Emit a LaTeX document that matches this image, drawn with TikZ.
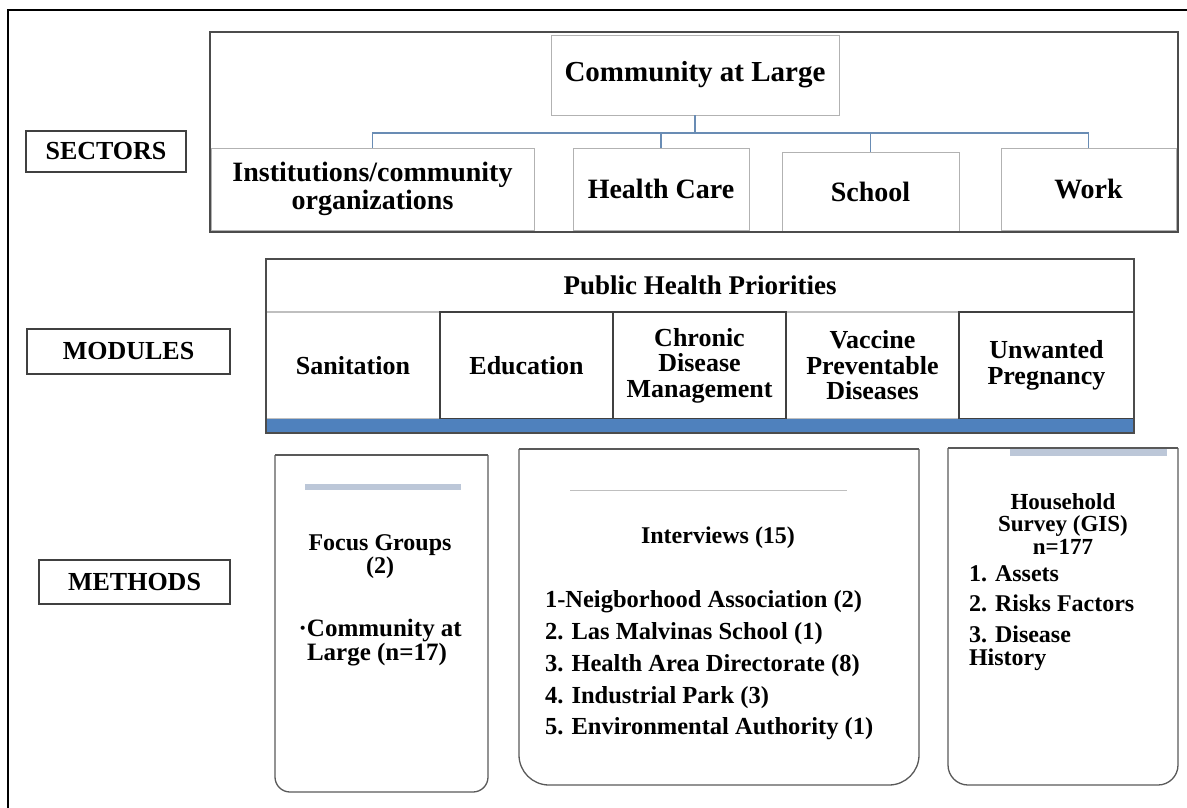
\documentclass[tikz,border=0pt]{standalone}
\usepackage{fontspec}
\setmainfont{Liberation Serif}
\usepackage{tikz}
\usetikzlibrary{positioning}

\definecolor{linkblue}{RGB}{105,140,180}
\definecolor{barblue}{RGB}{79,129,189}
\definecolor{palebar}{RGB}{188,199,216}

\begin{document}
\begin{tikzpicture}[
x                  = 1pt,
y                  = -1pt,
every node/.style  = {inner sep=0pt, outer sep=0pt, font=\bfseries},
labelbox/.style    = {draw=black!75, line width=1.3pt, font=\fontsize{26}{28}\selectfont\bfseries},
panel/.style       = {draw=black!70, line width=1.3pt},
sectorbox/.style   = {draw=black!30, line width=0.8pt, align=center, font=\fontsize{28}{28.5}\selectfont\bfseries},
link/.style        = {draw=linkblue, line width=1.2pt},
modcell/.style     = {draw=black!75, line width=1.1pt, align=center, minimum height=107pt, font=\fontsize{26}{25.5}\selectfont\bfseries},
methodline/.style  = {draw=black!65, line width=1.3pt},
methodtext/.style  = {align=center, font=\fontsize{24}{23}\selectfont\bfseries}
]

\useasboundingbox (0,0) rectangle (1187,808);
\draw[line width=2pt] (1187,10) -- (8,10) -- (8,808);

% sectors
\node[labelbox, minimum width=160pt, minimum height=41pt] (sectors) at (106,151.5) {SECTORS};
\node[sectorbox, minimum width=288pt, minimum height=80pt, font=\fontsize{29}{29}\selectfont\bfseries] (community) at (695,75) {Community at Large};
\node[sectorbox, minimum width=323pt, minimum height=82pt] (inst) at (372.5,189) {Institutions/community\\organizations};
\node[sectorbox, minimum width=176pt, minimum height=82pt] (health) at (661,189) {Health Care};
\node[sectorbox, minimum width=177pt, minimum height=80pt] (school) at (870.5,192) {School};
\node[sectorbox, minimum width=175pt, minimum height=82pt] (work) at (1088.5,189) {Work};
\node[panel, minimum width=968pt, minimum height=200pt] (sectorpanel) at (694,132) {};

\draw[link] (community.south) -- ++(0,18) coordinate (hub);
\draw[link] (hub) -| (inst.north);
\draw[link] (hub) -| (health.north);
\draw[link] (hub) -| (school.north);
\draw[link] (hub) -| (work.north);

% modules
\node[labelbox, minimum width=203pt, minimum height=45pt] (modules) at (128.5,351.5) {MODULES};
\node[minimum width=868pt, minimum height=53pt, font=\fontsize{27}{27}\selectfont\bfseries] (priorities) at (700,285.5) {Public Health Priorities};
\node[modcell, draw=black!25, minimum width=174pt] (sanitation) at (353,365.5) {Sanitation};
\node[modcell, draw=black!25, minimum width=173pt] (vaccine) at (872.5,365.5) {Vaccine\\Preventable\\Diseases};
\node[modcell, minimum width=173pt] (education) at (526.5,365.5) {Education};
\node[modcell, minimum width=173pt] (chronic) at (699.5,365.5) {Chronic\\Disease\\Management};
\node[modcell, minimum width=175pt] (pregnancy) at (1046.5,365.5) {Unwanted\\Pregnancy};
\node[fill=barblue, minimum width=868pt, minimum height=14pt] (bar) at (700,426) {};
\draw[panel] (priorities.north west) rectangle (bar.south east);

% methods
\node[labelbox, minimum width=191pt, minimum height=44pt] (methods) at (134.5,582) {METHODS};
\node[minimum width=213pt, minimum height=337pt] (focus) at (381.5,623.5) {};
\node[minimum width=400pt, minimum height=336pt] (interviews) at (719,617) {};
\node[minimum width=230pt, minimum height=337pt] (survey) at (1063,616.5) {};

\draw[methodline, rounded corners=15pt] (focus.north west) -- (focus.south west) -- (focus.south east) -- (focus.north east);
\draw[methodline] (focus.north west) -- (focus.north east);
\draw[methodline, rounded corners=30pt] (interviews.north west) -- (interviews.south west) -- (interviews.south east) -- (interviews.north east);
\draw[methodline] (interviews.north west) -- (interviews.north east);
\draw[methodline, rounded corners=20pt] (survey.north west) -- (survey.south west) -- (survey.south east) -- (survey.north east);
\draw[methodline] (survey.north west) -- (survey.north east);

\draw[palebar, line width=6pt] (305,487) -- (461,487);
\draw[black!25, line width=1pt] (570,490) -- (847,490);
\draw[palebar, line width=7pt] (1010,452) -- (1167,452);

\node[methodtext] (focustitle) at (380,556.5) {Focus Groups\\(2)};
\node[methodtext, align=left, anchor=west, font=\fontsize{25}{22}\selectfont\bfseries] (focuslist) at (307,642.5) {\llap{\textperiodcentered}Community at\\Large (n=17)};
\node[methodtext] (interviewstitle) at (718,538) {Interviews (15)};
\node[methodtext, align=left, anchor=west, font=\fontsize{24.5}{31.75}\selectfont\bfseries] (interviewslist) at (545,665.5) {1-Neigborhood Association (2)\\2. Las Malvinas School (1)\\3. Health Area Directorate (8)\\4. Industrial Park (3)\\5. Environmental Authority (1)};
\node[methodtext, font=\fontsize{23}{22.5}\selectfont\bfseries] (surveytitle) at (1063,524) {Household\\Survey (GIS)\\n=177};
\node[methodtext, align=left, anchor=west, font=\fontsize{24}{23.5}\selectfont\bfseries] (surveylist) at (969,618) {1. Assets\\[7pt]2. Risks Factors\\[7pt]3. Disease\\History};
\end{tikzpicture}
\end{document}
